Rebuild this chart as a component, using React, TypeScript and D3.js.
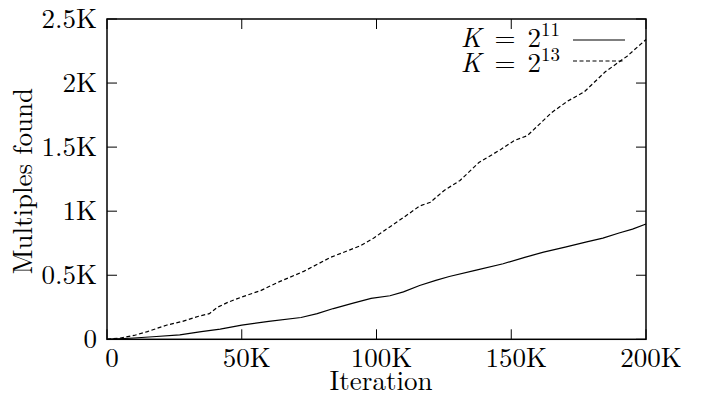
import React from "react";
import * as d3 from "d3";

// iteration in thousands
const xTicks = [0, 50, 100, 150, 200];
const xTickLabels = ["0", "50K", "100K", "150K", "200K"];
const yTicks = [0, 0.5, 1, 1.5, 2, 2.5];
const yTickLabels = ["0", "0.5K", "1K", "1.5K", "2K", "2.5K"];

// K = 2^11 (solid)
const k11Iter = [0, 10, 17, 27, 35, 42, 50, 60, 72, 78, 84, 91, 98, 105, 110, 116, 122, 127, 137, 147, 155, 162, 170, 178, 184, 190, 195, 200];
const k11Found = [0, 0.01, 0.02, 0.035, 0.06, 0.08, 0.11, 0.14, 0.17, 0.2, 0.24, 0.28, 0.32, 0.34, 0.37, 0.42, 0.46, 0.49, 0.54, 0.59, 0.64, 0.68, 0.72, 0.76, 0.79, 0.83, 0.86, 0.9];

// K = 2^13 (dashed)
const k13Iter = [0, 5, 10, 15, 22, 28, 34, 38, 41, 45, 50, 57, 64, 73, 83, 94, 99, 103, 110, 116, 120, 125, 131, 138, 146, 151, 156, 161, 165, 171, 177, 185, 193, 200];
const k13Found = [0, 0.01, 0.03, 0.06, 0.11, 0.14, 0.18, 0.2, 0.25, 0.29, 0.33, 0.38, 0.45, 0.53, 0.64, 0.73, 0.79, 0.85, 0.95, 1.04, 1.07, 1.16, 1.24, 1.38, 1.48, 1.55, 1.59, 1.69, 1.77, 1.86, 1.93, 2.09, 2.21, 2.34];

const series = [
  { name: "11", xs: k11Iter, ys: k11Found, dash: "none" },
  { name: "13", xs: k13Iter, ys: k13Found, dash: "4,2.5" },
];

const txt = { fontFamily: "Latin Modern Roman" };

export default function App() {
  const left = 107, right = 646, top = 19, bottom = 339.3;
  const x = d3.scaleLinear().domain([0, 200]).range([left, right]);
  const y = d3.scaleLinear().domain([0, 2.5]).range([bottom, top]);
  const line = d3.line<[number, number]>().x((d) => x(d[0])).y((d) => y(d[1]));
  const tick = 10;

  return (
    <svg width={701} height={401} style={{ position: "absolute", left: 0, top: 0, background: "#fff" }}>
      {/* curves */}
      {series.map((s) => (
        <path
          key={s.name}
          d={line(s.xs.map((v, i) => [v, s.ys[i]] as [number, number])) || ""}
          fill="none"
          stroke="#000"
          strokeWidth={1.2}
          strokeDasharray={s.dash}
        />
      ))}

      {/* ticks, mirrored on top and right */}
      {xTicks.map((t) => (
        <g key={"x" + t}>
          <line x1={x(t)} x2={x(t)} y1={bottom} y2={bottom - tick} stroke="#000" strokeWidth={1} />
          <line x1={x(t)} x2={x(t)} y1={top} y2={top + tick} stroke="#000" strokeWidth={1} />
        </g>
      ))}
      {yTicks.map((t) => (
        <g key={"y" + t}>
          <line x1={left} x2={left + tick} y1={y(t)} y2={y(t)} stroke="#000" strokeWidth={1} />
          <line x1={right} x2={right - tick} y1={y(t)} y2={y(t)} stroke="#000" strokeWidth={1} />
        </g>
      ))}

      <rect x={left} y={top} width={right - left} height={bottom - top} fill="none" stroke="#000" strokeWidth={1.5} />

      {/* tick labels */}
      {xTicks.map((t, i) => (
        <text key={"xl" + t} x={x(t) + 5} y={367} textAnchor="middle" fontSize={27} style={txt}>
          {xTickLabels[i]}
        </text>
      ))}
      {yTicks.map((t, i) => (
        <text key={"yl" + t} x={97} y={y(t) + 8.5} textAnchor="end" fontSize={27} style={txt}>
          {yTickLabels[i]}
        </text>
      ))}

      {/* axis titles */}
      <text x={381} y={390} textAnchor="middle" fontSize={27} style={txt}>
        Iteration
      </text>
      <text transform={`translate(32,${(top + bottom) / 2 + 2}) rotate(-90)`} textAnchor="middle" fontSize={27} style={txt}>
        Multiples found
      </text>

      {/* legend */}
      {series.map((s, i) => (
        <g key={"lg" + s.name}>
          <text x={560} y={46.5 + i * 25} textAnchor="end" fontSize={27} style={txt}>
            <tspan fontStyle="italic">K</tspan>
            <tspan dx={4}> = </tspan>
            <tspan dx={3}>2</tspan>
            <tspan fontSize={19} dy={-11}>{s.name}</tspan>
          </text>
          <line x1={573} x2={625} y1={40 + i * 21} y2={40 + i * 21} stroke="#000" strokeWidth={1.2} strokeDasharray={s.dash} />
        </g>
      ))}
    </svg>
  );
}
